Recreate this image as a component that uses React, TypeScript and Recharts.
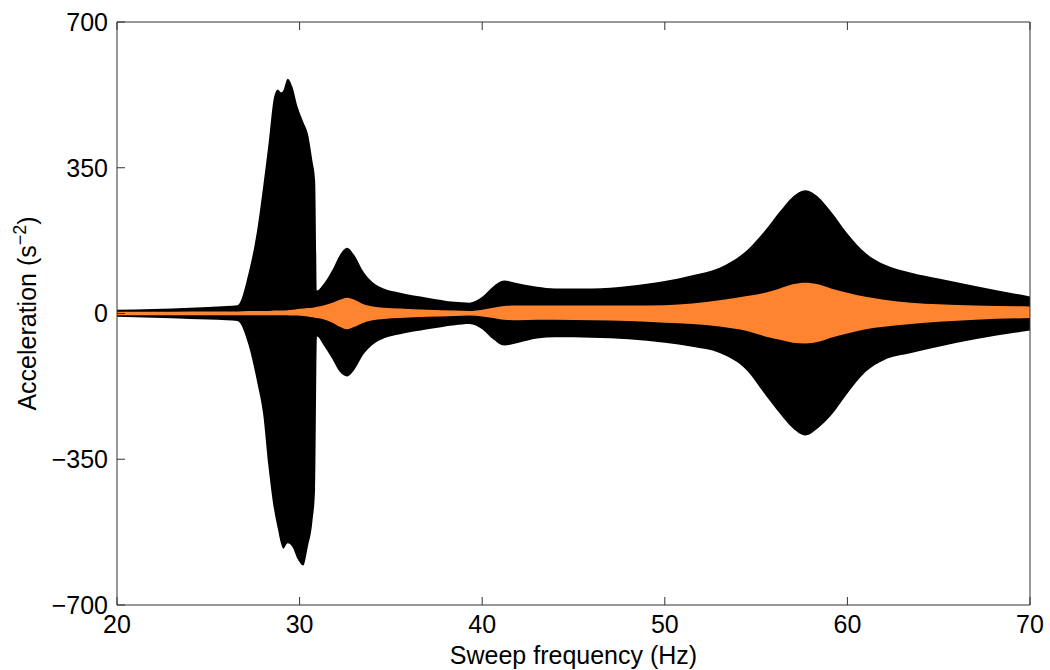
import { ComposedChart, Area, XAxis, YAxis } from "recharts";

// sweep frequency (Hz)
const freq = [
  20, 22, 24, 26, 26.6, 27.2, 27.7, 28.0, 28.3, 28.6, 28.8, 29.0, 29.1, 29.35, 29.6, 29.9, 30.2, 30.45, 30.7,
  30.85, 30.95, 31.3, 31.8, 32.2, 32.6, 33.0, 33.5, 34.0, 34.6, 35.5, 37, 38.5, 39.3, 40, 40.6, 41.2, 42, 43,
  44, 46, 48, 50, 51.5, 53, 54.5, 55.5, 56.3, 57, 57.7, 58.4, 59.1, 60, 61, 62, 63.5, 65, 67, 70,
];

// response envelope (black)
const blackHi = [
  9, 11, 14, 18, 20, 96, 207, 303, 408, 519, 538, 531, 535, 564, 545, 495, 460, 432, 367,
  320, 55, 70, 105, 140, 158, 140, 100, 75, 60, 50, 38, 28, 26, 40, 65, 79, 72, 64,
  60, 60, 66, 78, 92, 110, 152, 200, 245, 280, 296, 280, 245, 192, 145, 118, 98, 84, 66, 41,
];
const blackLo = [
  -8, -10, -13, -16, -18, -75, -170, -240, -369, -470, -515, -555, -565, -552, -560, -590, -605, -560, -500,
  -420, -55, -75, -110, -140, -151, -135, -98, -75, -60, -50, -38, -28, -25, -38, -62, -77, -70, -60,
  -57, -58, -62, -70, -80, -95, -137, -195, -240, -275, -293, -275, -245, -192, -140, -112, -95, -80, -62, -41,
];

// input envelope (orange)
const orangeHi = [
  4, 4, 5, 5, 5, 6, 6, 6, 6, 7, 7, 7, 7, 8, 9, 11, 12, 13, 14,
  15, 16, 19, 26, 33, 38, 33, 22, 17, 14, 12, 9, 7, 6, 9, 14, 18, 19, 19,
  19, 19, 19, 20, 24, 32, 42, 50, 60, 70, 74, 70, 60, 50, 40, 33, 26, 22, 19, 17,
];
const orangeLo = [
  -4, -4, -4, -4, -4, -4, -4, -4, -4, -4, -4, -4, -4, -4, -5, -5, -6, -7, -9,
  -10, -11, -14, -22, -32, -38, -32, -22, -16, -13, -11, -8, -6, -5, -7, -11, -15, -16, -15,
  -15, -16, -18, -22, -25, -31, -42, -55, -63, -70, -72, -68, -58, -48, -38, -32, -25, -20, -15, -11,
];

const xTicks = [20, 30, 40, 50, 60, 70];
const yTicks = [-700, -350, 0, 350, 700];

const data = freq.map((f, i) => ({
  f,
  black: [blackLo[i], blackHi[i]],
  orange: [orangeLo[i], orangeHi[i]],
}));

const FONT = "'Liberation Sans', Arial, sans-serif";
const AXIS = "#333";
const FS = 25;

const fmtY = (v: number) => (v < 0 ? `\u2212${Math.abs(v)}` : `${v}`);

function YLabel(props: any) {
  const vb = props.viewBox || {};
  const cy = vb.y + vb.height / 2;
  const cx = 36;
  return (
    <text
      x={cx}
      y={cy}
      transform={`rotate(-90, ${cx}, ${cy})`}
      textAnchor="middle"
      fontFamily={FONT}
      fontSize={FS}
      fill="#000"
    >
      Acceleration (s
      <tspan dy={-10} fontSize={18}>
        {"\u22122"}
      </tspan>
      <tspan dy={10}>)</tspan>
    </text>
  );
}

export default function App() {
  return (
    <div style={{ position: "absolute", left: 0, top: 0, width: 1050, height: 670, background: "#fff" }}>
      <ComposedChart
        width={1050}
        height={670}
        data={data}
        margin={{ top: 21, right: 19, bottom: 0, left: 0 }}
      >
        <XAxis
          dataKey="f"
          type="number"
          domain={[20, 70]}
          ticks={xTicks}
          allowDataOverflow
          height={65}
          tickSize={-8}
          tickMargin={18}
          stroke={AXIS}
          tick={{ fill: "#000", fontSize: FS, fontFamily: FONT }}
          label={{
            value: "Sweep frequency (Hz)",
            position: "insideBottom",
            offset: 6,
            fill: "#000",
            fontSize: FS,
            fontFamily: FONT,
          }}
        />
        <XAxis
          xAxisId="top"
          dataKey="f"
          type="number"
          orientation="top"
          domain={[20, 70]}
          ticks={xTicks}
          allowDataOverflow
          height={1}
          tickSize={-8}
          stroke={AXIS}
          tickFormatter={() => ""}
        />
        <YAxis
          type="number"
          domain={[-700, 700]}
          ticks={yTicks}
          allowDataOverflow
          width={117}
          tickSize={-8}
          tickMargin={17}
          stroke={AXIS}
          tickFormatter={fmtY}
          tick={{ fill: "#000", fontSize: FS, fontFamily: FONT }}
          label={{ content: <YLabel /> }}
        />
        <YAxis
          yAxisId="r"
          orientation="right"
          type="number"
          domain={[-700, 700]}
          ticks={yTicks}
          width={1}
          tickSize={-8}
          stroke={AXIS}
          tickFormatter={() => ""}
        />
        <Area
          dataKey="black"
          type="monotone"
          stroke="none"
          fill="#000"
          fillOpacity={1}
          isAnimationActive={false}
          activeDot={false}
          dot={false}
        />
        <Area
          dataKey="orange"
          type="monotone"
          stroke="none"
          fill="#ff842f"
          fillOpacity={1}
          isAnimationActive={false}
          activeDot={false}
          dot={false}
        />
      </ComposedChart>
    </div>
  );
}
